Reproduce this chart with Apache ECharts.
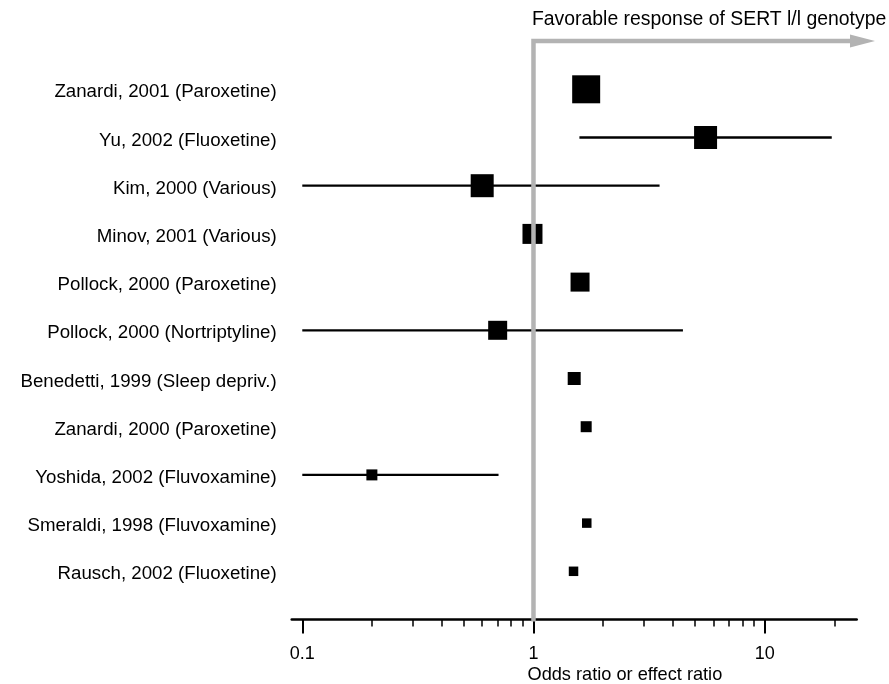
<!DOCTYPE html>
<html>
<head>
<meta charset="utf-8">
<title>SERT forest plot</title>
<script src="https://cdn.jsdelivr.net/npm/echarts@6/dist/echarts.min.js"></script>
<style>
    html, body { margin: 0; padding: 0; background: #fff; }
    #chart { width: 889px; height: 684px; }
</style>
</head>
<body>
<div id="chart"></div>
<script>
(function () {
    'use strict';

    // Studies, top to bottom.
    var studies = [
        'Zanardi, 2001 (Paroxetine)',
        'Yu, 2002 (Fluoxetine)',
        'Kim, 2000 (Various)',
        'Minov, 2001 (Various)',
        'Pollock, 2000 (Paroxetine)',
        'Pollock, 2000 (Nortriptyline)',
        'Benedetti, 1999 (Sleep depriv.)',
        'Zanardi, 2000 (Paroxetine)',
        'Yoshida, 2002 (Fluvoxamine)',
        'Smeraldi, 1998 (Fluvoxamine)',
        'Rausch, 2002 (Fluoxetine)'
    ];

    // Odds ratio / effect ratio and its interval (null = not drawn).
    var estimates = [1.69, 5.55, 0.60, 0.99, 1.59, 0.70, 1.50, 1.69, 0.20, 1.70, 1.49];
    var ciLow     = [null, 1.58, 0.10, null, null, 0.10, null, null, 0.10, null, null];
    var ciHigh    = [null, 19.5, 3.51, null, null, 4.43, null, null, 0.706, null, null];

    // Study weight, shown as the box size.
    var weights = [28, 23, 23, 20, 19, 19, 13, 11, 11, 9.5, 9.5];

    var majorTicks = [0.1, 1, 10];
    var minorTicks = [0.2, 0.3, 0.4, 0.5, 0.6, 0.7, 0.8, 0.9, 2, 3, 4, 5, 6, 7, 8, 9, 20];

    var refValue = 1;
    var arrowEnd = 30;

    var FONT = "'Liberation Sans', Arial, Helvetica, sans-serif";
    var GREY = '#b3b3b3';
    var INK = '#000';

    var ciData = [];
    studies.forEach(function (s, i) {
        if (ciLow[i] != null && ciHigh[i] != null) ciData.push([ciLow[i], i, ciHigh[i]]);
    });
    var boxData = estimates.map(function (e, i) { return [e, i, weights[i]]; });

    var chart = echarts.init(document.getElementById('chart'));

    var option = {
        animation: false,
        textStyle: { fontFamily: FONT },
        grid: { left: 291.7, right: 32.3, top: 41.1, bottom: 64.5, containLabel: false, outerBoundsMode: 'none' },
        xAxis: [{
            type: 'log', logBase: 10, min: 0.09, max: 25, position: 'bottom',
            axisLine: { show: true, onZero: false, lineStyle: { color: INK, width: 2.5 } },
            axisTick: { show: true, customValues: majorTicks, length: 14, lineStyle: { color: INK, width: 2 } },
            axisLabel: {
                customValues: majorTicks, margin: 26, fontSize: 18, color: INK, fontFamily: FONT,
                formatter: function (v) { return String(+v.toPrecision(3)); }
            },
            splitLine: { show: false },
            minorTick: { show: false }
        }, {
            type: 'log', logBase: 10, min: 0.09, max: 25, position: 'bottom',
            axisLine: { show: false, onZero: false },
            axisTick: { show: true, customValues: minorTicks, length: 7, lineStyle: { color: INK, width: 1.5 } },
            axisLabel: { show: false },
            splitLine: { show: false }
        }],
        yAxis: {
            type: 'value', inverse: true, min: -1, max: 11, interval: 1,
            axisLine: { show: false }, axisTick: { show: false }, splitLine: { show: false },
            axisLabel: {
                margin: 15, color: INK, fontFamily: FONT,
                formatter: function (v) { return studies[v] ? '{s|' + studies[v] + '}' : ''; },
                rich: { s: { fontSize: 18.7, color: INK, fontFamily: FONT, padding: [6, 0, 0, 0] } }
            }
        },
        series: [{
            name: 'interval',
            type: 'custom',
            z: 2,
            data: ciData,
            encode: { x: [0, 2], y: 1 },
            renderItem: function (params, api) {
                var a = api.coord([api.value(0), api.value(1)]);
                var b = api.coord([api.value(2), api.value(1)]);
                return {
                    type: 'line',
                    shape: { x1: a[0], y1: a[1], x2: b[0], y2: b[1] },
                    style: { stroke: INK, lineWidth: 2.3 }
                };
            }
        }, {
            name: 'estimate',
            type: 'scatter',
            z: 3,
            symbol: 'rect',
            symbolSize: function (d) { return d[2]; },
            itemStyle: { color: INK, opacity: 1 },
            data: boxData
        }, {
            name: 'reference',
            type: 'custom',
            z: 4,
            clip: false,
            data: [[refValue, -1]],
            renderItem: function (params, api) {
                var top = api.coord([refValue, -1]);
                var bottom = api.coord([refValue, 11]);
                var tip = api.coord([arrowEnd, -1]);
                var headLen = 25, headHalf = 6.5;
                return {
                    type: 'group',
                    children: [{
                        type: 'polyline',
                        shape: { points: [[bottom[0], bottom[1] + 2], [top[0], top[1]], [tip[0] - headLen + 1, top[1]]] },
                        style: { stroke: GREY, lineWidth: 4.5, fill: null, lineJoin: 'miter' }
                    }, {
                        type: 'polygon',
                        shape: { points: [[tip[0] - headLen, tip[1] - headHalf], [tip[0], tip[1]], [tip[0] - headLen, tip[1] + headHalf]] },
                        style: { fill: GREY }
                    }]
                };
            }
        }]
    };

    chart.setOption(option);

    // Text anchored to the reference line (x = 1).
    var refX = chart.convertToPixel({ xAxisIndex: 0 }, refValue);
    chart.setOption({
        graphic: [{
            type: 'text', left: refX - 1.5, top: 10,
            style: { text: 'Favorable response of SERT l/l genotype', font: '19.4px ' + FONT, fill: INK }
        }, {
            type: 'text', left: refX - 6, top: 666,
            style: { text: 'Odds ratio or effect ratio', font: '18.2px ' + FONT, fill: INK }
        }]
    });

    window.addEventListener('resize', function () { chart.resize(); });
})();
</script>
</body>
</html>
